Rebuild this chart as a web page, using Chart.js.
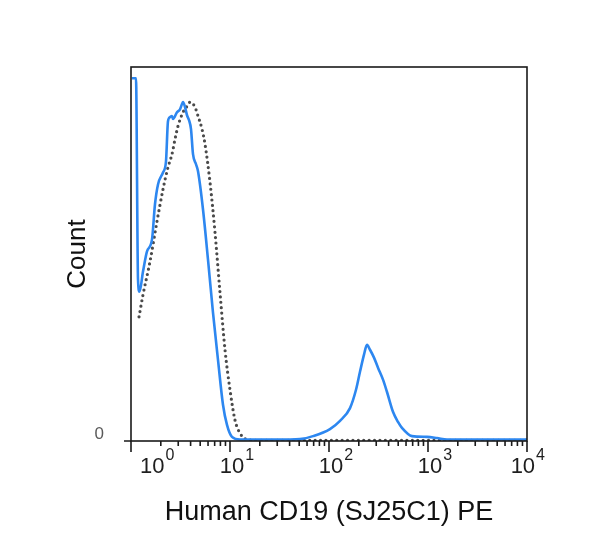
<!DOCTYPE html>
<html>
<head>
<meta charset="utf-8">
<script src="https://cdn.jsdelivr.net/npm/chart.js@4"></script>
<style>
html,body{margin:0;padding:0;background:#fff;}
canvas{display:block;}
</style>
</head>
<body>
<canvas id="c" width="600" height="555"></canvas>
<script>
// ---- data ----
const xTitle = 'Human CD19 (SJ25C1) PE';
const yTitle = 'Count';
const xTickValues = [1, 10, 100, 1000, 10000];
const xTickExponents = ['0', '1', '2', '3', '4'];
const yTickLabels = ['0'];

// stained sample (solid blue)
const blueX = [1.020, 1.123, 1.177, 1.219, 1.322, 1.451, 1.630, 1.747, 1.874, 2.105,
  2.257, 2.364, 2.477, 2.595, 2.657, 2.915, 3.126, 3.275, 3.352, 3.512,
  3.679, 3.854, 4.037, 4.229, 4.535, 4.752, 5.337, 5.995, 6.733, 7.564,
  8.495, 9.326, 10.47, 12.62, 20.1, 40.4, 50.9, 68.9, 102.3, 129.2,
  163.0, 187.4, 205.6, 225.7, 242.1, 259.5, 284.8, 312.5, 351.2, 385.4,
  442.8, 497.7, 545.8, 688.7, 977.3, 1233, 1556, 2656, 10000];
const blueY = [97.0, 97.0, 43.2, 39.9, 45.3, 50.7, 53.9, 63.3, 68.6, 71.8,
  74.8, 85.5, 86.6, 86.9, 86.1, 87.9, 88.7, 90.1, 90.6, 89.3,
  87.1, 85.8, 83.4, 76.7, 74.0, 72.1, 61.9, 48.5, 34.3, 21.7,
  9.7, 4.3, 1.1, 0.4, 0.4, 0.4, 0.5, 1.3, 3.2, 5.4,
  8.8, 13.7, 18.5, 23.1, 25.7, 24.4, 22.3, 19.6, 16.4, 13.1,
  7.8, 5.1, 3.5, 1.3, 1.1, 0.8, 0.4, 0.4, 0.4];

// isotype control (dotted gray)
const grayX = [1.205, 1.322, 1.556, 1.830, 2.105, 2.364, 2.595, 2.783, 2.984, 3.352,
  3.679, 3.945, 4.229, 4.431, 4.752, 5.214, 5.591, 6.281, 7.056, 7.925,
  8.903, 10.0, 11.23, 12.62, 14.51, 17.07, 10000];
const grayY = [33.2, 39.1, 48.0, 58.7, 67.3, 73.2, 76.7, 80.7, 84.2, 87.9,
  89.5, 90.6, 90.1, 89.3, 86.9, 83.4, 79.4, 69.2, 55.8, 39.7,
  24.4, 13.7, 5.6, 2.1, 0.5, 0.2, 0.2];

// ---- chart ----
const toPoints = (xs, ys) => xs.map((x, i) => ({x: x, y: ys[i]}));
const FONT = "'Liberation Sans', Arial, Helvetica, sans-serif";
Chart.defaults.font.family = FONT;

const frameAndTicks = {
  id: 'frameAndTicks',
  afterDatasetsDraw(chart) {
    const {ctx, chartArea: a, scales: {x, y}} = chart;
    ctx.save();
    ctx.strokeStyle = '#1a1a1a';
    ctx.lineWidth = 1.6;
    ctx.strokeRect(a.left, a.top, a.right - a.left, a.bottom - a.top);
    ctx.beginPath();
    // y "0" tick
    const y0 = y.getPixelForValue(0);
    ctx.moveTo(a.left - 7, y0); ctx.lineTo(a.left, y0);
    // x ticks: major + minor
    for (let d = 0; d < xTickValues.length; d++) {
      const v = xTickValues[d];
      const px = x.getPixelForValue(v);
      ctx.moveTo(px, a.bottom); ctx.lineTo(px, a.bottom + 11);
      if (d < xTickValues.length - 1) {
        for (let m = 2; m <= 9; m++) {
          const mp = x.getPixelForValue(v * m);
          ctx.moveTo(mp, a.bottom); ctx.lineTo(mp, a.bottom + 5);
        }
      }
    }
    ctx.stroke();
    // x labels 10^n
    ctx.fillStyle = '#1e1e1e';
    ctx.textBaseline = 'alphabetic';
    ctx.textAlign = 'left';
    const mainFont = '22px ' + FONT, supFont = '16px ' + FONT;
    for (let d = 0; d < xTickValues.length; d++) {
      const px = x.getPixelForValue(xTickValues[d]);
      ctx.font = mainFont;
      const w10 = ctx.measureText('10').width;
      ctx.font = supFont;
      const ws = ctx.measureText(xTickExponents[d]).width;
      const w = w10 + 1 + ws;
      let left = px + 2 - w10 / 2;
      if (left < a.left + 9) left = a.left + 9;
      if (left + w > a.right + 18) left = a.right + 18 - w;
      ctx.font = mainFont;
      ctx.fillText('10', left, a.bottom + 32);
      ctx.font = supFont;
      ctx.fillText(xTickExponents[d], left + w10 + 1, a.bottom + 19);
    }
    ctx.restore();
  }
};

new Chart(document.getElementById('c'), {
  type: 'line',
  data: {
    datasets: [
      {
        label: 'CD19 PE',
        data: toPoints(blueX, blueY),
        borderColor: 'rgb(45,135,240)',
        borderWidth: 2.6,
        pointRadius: 0,
        fill: false,
        cubicInterpolationMode: 'monotone',
        order: 0
      },
      {
        label: 'Isotype control',
        data: toPoints(grayX, grayY),
        borderColor: '#4a4a4a',
        borderWidth: 3.2,
        borderDash: [0, 5.4],
        borderCapStyle: 'round',
        pointRadius: 0,
        fill: false,
        cubicInterpolationMode: 'monotone',
        order: 1
      }
    ]
  },
  options: {
    responsive: false,
    animation: false,
    layout: {padding: {top: 67, right: 73, left: 0, bottom: 0}},
    plugins: {legend: {display: false}, tooltip: {enabled: false}},
    scales: {
      x: {
        type: 'logarithmic',
        min: 1,
        max: 10000,
        grid: {display: false},
        border: {display: false},
        ticks: {display: false},
        title: {
          display: true,
          text: xTitle,
          color: '#111',
          font: {size: 27, family: FONT},
          padding: {top: 0, bottom: 26}
        },
        afterFit(s) { s.height = 114; }
      },
      y: {
        type: 'linear',
        min: 0,
        max: 100,
        grid: {display: false},
        border: {display: false},
        ticks: {
          stepSize: 100,
          padding: 19,
          labelOffset: -7,
          color: '#5a5a5a',
          font: {size: 17, family: FONT},
          callback: (v) => v === 0 ? yTickLabels[0] : ''
        },
        title: {
          display: true,
          text: yTitle,
          color: '#111',
          font: {size: 26, family: FONT},
          padding: {top: 62, bottom: 0}
        },
        afterFit(s) { s.width = 131; }
      }
    }
  },
  plugins: [frameAndTicks]
});
</script>
</body>
</html>
